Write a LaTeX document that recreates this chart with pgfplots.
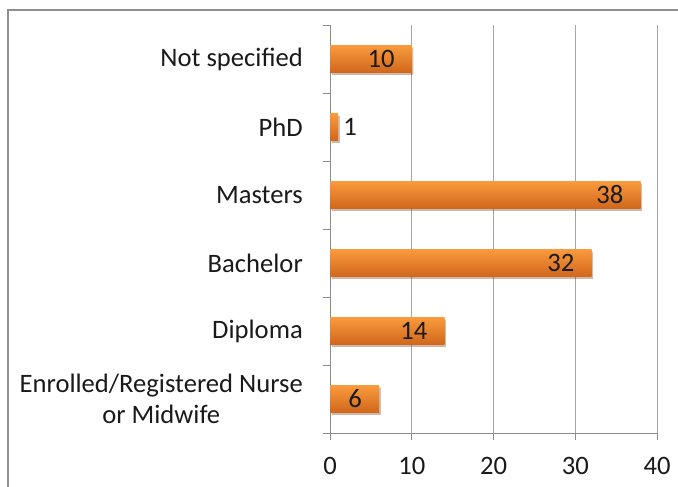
\documentclass[border=0pt]{standalone}
\usepackage{pgfplots}
\pgfplotsset{compat=1.18}
\usepackage{fontspec}
\setmainfont{Carlito}
\usetikzlibrary{shadows}
\definecolor{bartop}{HTML}{FA9A3C}
\definecolor{barbot}{HTML}{D0671D}
\definecolor{gridc}{HTML}{A6A6A6}
\definecolor{axc}{HTML}{8C8C8C}
\definecolor{framec}{HTML}{8F8F8F}
\definecolor{txt}{HTML}{1A1A1A}
\pgfplotsset{
  obar/.style={xbar, bar width=27bp, bar shift=0pt, draw=none, top color=bartop, bottom color=barbot,
    drop shadow={shadow xshift=1.5bp, shadow yshift=-2.5bp, opacity=0.2, fill=black},
    nodes near coords},
  inlab/.style={nodes near coords style={anchor=east, inner sep=0pt, xshift=-17bp, text=txt}},
  outlab/.style={nodes near coords style={anchor=west, inner sep=0pt, xshift=5bp, text=txt}},
}
\begin{document}
\begin{tikzpicture}[x=1bp,y=1bp]
\useasboundingbox (0,0) rectangle (678,487);
\draw[framec, line width=1.5bp] (8,-2) -- (8,477) -- (680,477);
\begin{axis}[
  at={(330bp,54bp)}, anchor=south west,
  scale only axis, width=327bp, height=408bp,
  xmin=0, xmax=40, ymin=-0.5, ymax=5.5,
  axis x line*=bottom, axis y line*=left,
  axis line style={axc, line width=0.8bp, -},
  font=\fontsize{26.6bp}{31bp}\selectfont,
  /pgf/number format/assume math mode=true,
  xtick={0,10,20,30,40},
  ytick={0,...,5},
  yticklabels={{Enrolled/Registered Nurse\\or Midwife},Diploma,Bachelor,Masters,PhD,Not specified},
  minor ytick={-0.5,0.5,1.5,2.5,3.5,4.5,5.5},
  tick align=outside, major tick length=7bp, minor tick length=7bp,
  tick style={axc, line width=0.8bp},
  every major y tick/.append style={draw=none},
  xmajorgrids, grid style={gridc, line width=0.8bp},
  y tick label style={align=center, text=txt, inner sep=0pt, xshift=-20bp},
  x tick label style={text=txt, yshift=-14bp},
  clip=false,
]
\addplot[obar, inlab] coordinates {(6,0)};
\addplot[obar, inlab] coordinates {(14,1)};
\addplot[obar, inlab] coordinates {(32,2)};
\addplot[obar, inlab] coordinates {(38,3)};
\addplot[obar, outlab] coordinates {(1,4)};
\addplot[obar, inlab] coordinates {(10,5)};
\end{axis}
\end{tikzpicture}
\end{document}
